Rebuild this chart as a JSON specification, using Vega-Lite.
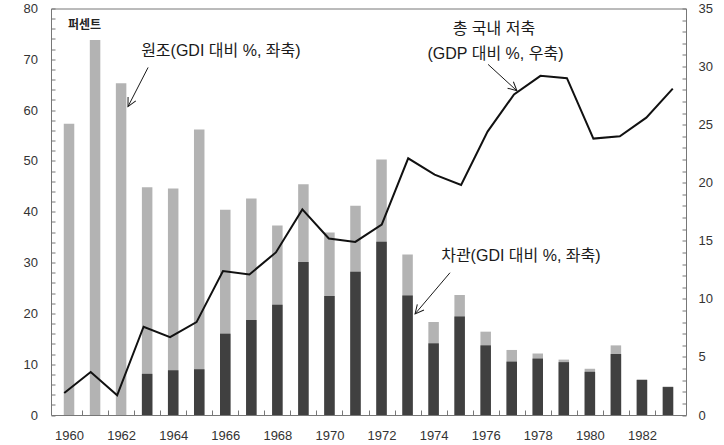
{
  "$schema": "https://vega.github.io/schema/vega-lite/v6.json",
  "width": 635,
  "height": 406.5,
  "autosize": {"type": "none"},
  "padding": {"left": 51, "top": 8.5, "right": 38, "bottom": 30},
  "background": "white",
  "config": {
    "font": "Liberation Sans, Noto Sans CJK KR",
    "view": {"stroke": "#777", "strokeWidth": 1},
    "axis": {
      "grid": false,
      "domain": false,
      "tickColor": "#777",
      "labelColor": "#333",
      "labelFont": "Liberation Sans",
      "labelFontSize": 13,
      "labelOverlap": false,
      "labelFlush": false,
      "labelBound": false,
      "title": null
    }
  },
  "datasets": {
    "main": [
      {"year": 1960, "aid": 57.3, "loan": 0, "saving": 1.9},
      {"year": 1961, "aid": 73.8, "loan": 0, "saving": 3.7},
      {"year": 1962, "aid": 65.3, "loan": 0, "saving": 1.7},
      {"year": 1963, "aid": 44.8, "loan": 8.1, "saving": 7.6},
      {"year": 1964, "aid": 44.6, "loan": 8.8, "saving": 6.7},
      {"year": 1965, "aid": 56.2, "loan": 9.0, "saving": 8.0},
      {"year": 1966, "aid": 40.4, "loan": 16.0, "saving": 12.4},
      {"year": 1967, "aid": 42.6, "loan": 18.7, "saving": 12.1},
      {"year": 1968, "aid": 37.3, "loan": 21.7, "saving": 14.0},
      {"year": 1969, "aid": 45.4, "loan": 30.1, "saving": 17.7},
      {"year": 1970, "aid": 35.9, "loan": 23.4, "saving": 15.2},
      {"year": 1971, "aid": 41.2, "loan": 28.2, "saving": 14.9},
      {"year": 1972, "aid": 50.3, "loan": 34.1, "saving": 16.4},
      {"year": 1973, "aid": 31.6, "loan": 23.5, "saving": 22.1},
      {"year": 1974, "aid": 18.3, "loan": 14.1, "saving": 20.7},
      {"year": 1975, "aid": 23.6, "loan": 19.4, "saving": 19.8},
      {"year": 1976, "aid": 16.4, "loan": 13.7, "saving": 24.4},
      {"year": 1977, "aid": 12.8, "loan": 10.5, "saving": 27.6},
      {"year": 1978, "aid": 12.1, "loan": 11.1, "saving": 29.2},
      {"year": 1979, "aid": 10.9, "loan": 10.4, "saving": 29.0},
      {"year": 1980, "aid": 9.1, "loan": 8.5, "saving": 23.8},
      {"year": 1981, "aid": 13.7, "loan": 12.0, "saving": 24.0},
      {"year": 1982, "aid": 7.0, "loan": 6.9, "saving": 25.6},
      {"year": 1983, "aid": 5.6, "loan": 5.5, "saving": 28.1}
    ],
    "notes": [
      {"name": "aid", "label": "원조(GDI 대비 %, 좌축)", "x": 1965.92, "y": 71.7},
      {"name": "sav1", "label": "총 국내 저축", "x": 1976.24, "y": 75.9},
      {"name": "sav2", "label": "(GDP 대비 %, 우축)", "x": 1976.3, "y": 71.1},
      {"name": "loan", "label": "차관(GDI 대비 %, 좌축)", "x": 1977.26, "y": 31.3}
    ],
    "unit": [
      {"label": "퍼센트", "x": 1960.77, "y": 76.85}
    ],
    "arrows": [
      {"name": "aid", "x": 1963.17, "y": 68.4, "x2": 1962.41, "y2": 60.7},
      {"name": "sav", "x": 1976.02, "y": 69.0, "x2": 1977.11, "y2": 63.8},
      {"name": "loan", "x": 1974.58, "y": 28.0, "x2": 1973.26, "y2": 19.9}
    ]
  },
  "layer": [
    {
      "data": {"name": "main"},
      "mark": {"type": "bar", "color": "#b3b3b3", "width": 10.5},
      "encoding": {
        "x": {
          "field": "year", "type": "quantitative",
          "scale": {"domain": [1959.5, 1983.5], "nice": false, "zero": false},
          "axis": {
            "orient": "bottom",
            "values": [1960, 1962, 1964, 1966, 1968, 1970, 1972, 1974, 1976, 1978, 1980, 1982],
            "format": "d",
            "ticks": false,
            "labelPadding": 14.5,
            "labelOverlap": false,
            "labelFlush": false,
            "domain": false,
            "title": null
          }
        },
        "y": {
          "field": "aid", "type": "quantitative",
          "scale": {"domain": [0, 80], "nice": false},
          "axis": {
            "orient": "left",
            "values": [0, 2, 4, 6, 8, 10, 12, 14, 16, 18, 20, 22, 24, 26, 28, 30, 32, 34, 36, 38, 40, 42, 44, 46, 48, 50, 52, 54, 56, 58, 60, 62, 64, 66, 68, 70, 72, 74, 76, 78, 80],
            "labelExpr": "datum.value % 10 === 0 ? datum.label : ''",
            "offset": -4,
            "tickSize": 4,
            "labelPadding": 13.5,
            "labelOverlap": false,
            "labelFlush": false,
            "domain": false,
            "title": null
          }
        }
      }
    },
    {
      "data": {"name": "main"},
      "mark": {"type": "bar", "color": "#404040", "width": 10.5},
      "encoding": {
        "x": {
          "field": "year", "type": "quantitative",
          "scale": {"domain": [1959.5, 1983.5], "nice": false, "zero": false},
          "axis": {
            "orient": "bottom",
            "values": [1960.5, 1961.5, 1962.5, 1963.5, 1964.5, 1965.5, 1966.5, 1967.5, 1968.5, 1969.5, 1970.5, 1971.5, 1972.5, 1973.5, 1974.5, 1975.5, 1976.5, 1977.5, 1978.5, 1979.5, 1980.5, 1981.5, 1982.5],
            "labels": false,
            "offset": -5,
            "tickSize": 5,
            "domain": false,
            "title": null
          }
        },
        "y": {"field": "loan", "type": "quantitative", "scale": {"domain": [0, 80], "nice": false}, "axis": null}
      }
    },
    {
      "data": {"name": "main"},
      "mark": {"type": "line", "color": "#111", "strokeWidth": 2},
      "encoding": {
        "x": {"field": "year", "type": "quantitative", "scale": {"domain": [1959.5, 1983.5], "nice": false, "zero": false}, "axis": null},
        "y": {
          "field": "saving", "type": "quantitative",
          "scale": {"domain": [0, 35], "nice": false},
          "axis": {
            "orient": "right",
            "values": [0, 1, 2, 3, 4, 5, 6, 7, 8, 9, 10, 11, 12, 13, 14, 15, 16, 17, 18, 19, 20, 21, 22, 23, 24, 25, 26, 27, 28, 29, 30, 31, 32, 33, 34, 35],
            "labelExpr": "datum.value % 5 === 0 ? datum.label : ''",
            "offset": -4,
            "tickSize": 4,
            "labelPadding": 12,
            "labelOverlap": false,
            "labelFlush": false,
            "domain": false,
            "title": null
          }
        }
      }
    },
    {
      "data": {"name": "notes"},
      "mark": {"type": "text", "fontSize": 16, "color": "#1a1a1a", "font": "Liberation Sans, Noto Sans CJK KR", "align": "center", "baseline": "middle"},
      "encoding": {
        "x": {"field": "x", "type": "quantitative", "scale": {"domain": [1959.5, 1983.5], "nice": false, "zero": false}, "axis": null},
        "y": {"field": "y", "type": "quantitative", "scale": {"domain": [0, 80], "nice": false}, "axis": null},
        "text": {"field": "label"}
      }
    },
    {
      "data": {"name": "unit"},
      "mark": {"type": "text", "fontSize": 12, "fontWeight": "bold", "color": "#222", "font": "Noto Sans CJK KR", "align": "center", "baseline": "middle"},
      "encoding": {
        "x": {"field": "x", "type": "quantitative", "scale": {"domain": [1959.5, 1983.5], "nice": false, "zero": false}, "axis": null},
        "y": {"field": "y", "type": "quantitative", "scale": {"domain": [0, 80], "nice": false}, "axis": null},
        "text": {"field": "label"}
      }
    },
    {
      "data": {"name": "arrows"},
      "mark": {"type": "rule", "color": "#1a1a1a", "strokeWidth": 1},
      "encoding": {
        "x": {"field": "x", "type": "quantitative", "scale": {"domain": [1959.5, 1983.5], "nice": false, "zero": false}, "axis": null},
        "y": {"field": "y", "type": "quantitative", "scale": {"domain": [0, 80], "nice": false}, "axis": null},
        "x2": {"field": "x2"},
        "y2": {"field": "y2"}
      }
    },
    {
      "data": {"name": "arrows"},
      "transform": [{"filter": "datum.name === 'aid'"}],
      "mark": {"type": "point", "shape": "M -0.5 -1 L 0 0 L 0.5 -1", "filled": false, "stroke": "#1a1a1a", "strokeWidth": 1, "size": 300, "angle": 27, "opacity": 1},
      "encoding": {
        "x": {"field": "x2", "type": "quantitative", "scale": {"domain": [1959.5, 1983.5], "nice": false, "zero": false}, "axis": null},
        "y": {"field": "y2", "type": "quantitative", "scale": {"domain": [0, 80], "nice": false}, "axis": null}
      }
    },
    {
      "data": {"name": "arrows"},
      "transform": [{"filter": "datum.name === 'sav'"}],
      "mark": {"type": "point", "shape": "M -0.5 -1 L 0 0 L 0.5 -1", "filled": false, "stroke": "#1a1a1a", "strokeWidth": 1, "size": 300, "angle": -48, "opacity": 1},
      "encoding": {
        "x": {"field": "x2", "type": "quantitative", "scale": {"domain": [1959.5, 1983.5], "nice": false, "zero": false}, "axis": null},
        "y": {"field": "y2", "type": "quantitative", "scale": {"domain": [0, 80], "nice": false}, "axis": null}
      }
    },
    {
      "data": {"name": "arrows"},
      "transform": [{"filter": "datum.name === 'loan'"}],
      "mark": {"type": "point", "shape": "M -0.5 -1 L 0 0 L 0.5 -1", "filled": false, "stroke": "#1a1a1a", "strokeWidth": 1, "size": 300, "angle": 40, "opacity": 1},
      "encoding": {
        "x": {"field": "x2", "type": "quantitative", "scale": {"domain": [1959.5, 1983.5], "nice": false, "zero": false}, "axis": null},
        "y": {"field": "y2", "type": "quantitative", "scale": {"domain": [0, 80], "nice": false}, "axis": null}
      }
    }
  ],
  "resolve": {"scale": {"x": "independent", "y": "independent"}}
}
